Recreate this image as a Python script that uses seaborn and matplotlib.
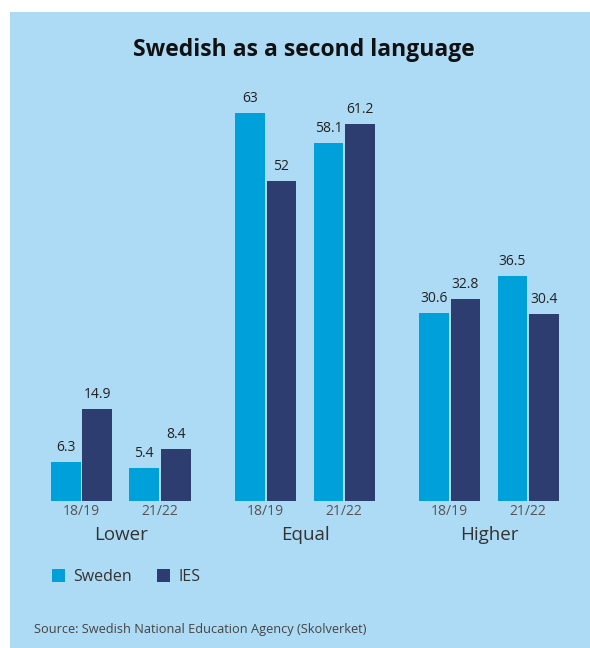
import matplotlib
matplotlib.use("Agg")
import matplotlib.pyplot as plt
from matplotlib.patches import Rectangle
import pandas as pd
import seaborn as sns

# Share of results relative to national test grade, by comparison group
groups = ["Lower", "Equal", "Higher"]
periods = ["18/19", "21/22"]
series = ["Sweden", "IES"]
sweden = [6.3, 5.4, 63, 58.1, 30.6, 36.5]
ies = [14.9, 8.4, 52, 61.2, 32.8, 30.4]

rows = []
i = 0
for g in groups:
    for p in periods:
        rows.append({"group": g, "period": p, "series": "Sweden", "value": sweden[i]})
        rows.append({"group": g, "period": p, "series": "IES", "value": ies[i]})
        i += 1
df = pd.DataFrame(rows)

sns.set_theme(style="white")
plt.rcParams["font.family"] = ["Open Sans", "DejaVu Sans"]

BG = "#addaf4"
palette = {"Sweden": "#00a0da", "IES": "#2e3d70"}

W, H = 590, 648
fig = plt.figure(figsize=(W / 100, H / 100), dpi=100, facecolor="white")
fig.patches.append(Rectangle((10 / W, 0), 1 - 10 / W, 1 - 12 / H,
                             transform=fig.transFigure, facecolor=BG,
                             edgecolor="none", zorder=-10))

fig.text(304 / W, 1 - 50 / H, "Swedish as a second language",
         ha="center", va="center", fontsize=16.5, fontweight="bold", color="#111111")

ymax = 65
base_px = 501
px_per_unit = 6.16
ax_h = ymax * px_per_unit
lefts = [42.25, 226.5, 410.5]
ax_w = 157

handles = labels = None
for k, g in enumerate(groups):
    ax = fig.add_axes([lefts[k] / W, (H - base_px) / H, ax_w / W, ax_h / H])
    ax.set_facecolor("none")
    sub = df[df["group"] == g]
    sns.barplot(data=sub, x="period", y="value", hue="series",
                order=periods, hue_order=series, palette=palette,
                width=0.8, gap=0.05, saturation=1, linewidth=0,
                ax=ax, legend=(k == 0))
    for c in ax.containers:
        ax.bar_label(c, fmt="%g", padding=5, fontsize=10, color="#222222")
    ax.set_xlim(-0.5, 1.5)
    ax.set_ylim(0, ymax)
    ax.set_yticks([])
    ax.set_ylabel("")
    ax.set_xlabel(g, fontsize=13.5, color="#333333", labelpad=5)
    ax.tick_params(axis="x", length=0, pad=2, labelsize=10, labelcolor="#555555")
    for s in ax.spines.values():
        s.set_visible(False)
    if k == 0:
        handles, labels = ax.get_legend_handles_labels()
        ax.get_legend().remove()

for h in handles:
    h.set_linewidth(0)

fig.legend(handles, labels, loc="center left",
           bbox_to_anchor=(38 / W, 1 - 577 / H), ncol=2, frameon=False,
           fontsize=11.5, handlelength=0.8, handleheight=0.8,
           handletextpad=0.5, columnspacing=1.6, labelcolor="#333333")

fig.text(34 / W, 1 - 629 / H, "Source: Swedish National Education Agency (Skolverket)",
         ha="left", va="center", fontsize=9.2, color="#444444")

fig.savefig("out.png", dpi=100, facecolor=fig.get_facecolor())
